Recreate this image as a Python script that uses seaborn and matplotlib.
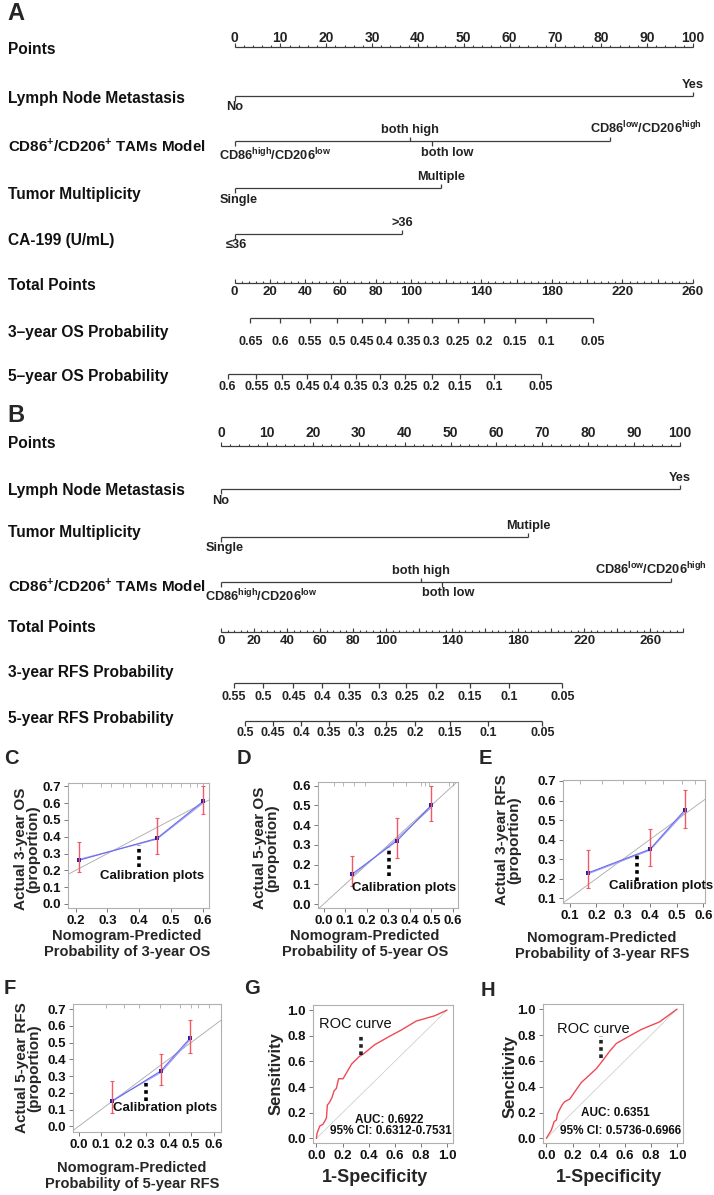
import numpy as np
import pandas as pd
import matplotlib
matplotlib.use("Agg")
import matplotlib.pyplot as plt
import seaborn as sns
from matplotlib import font_manager

# ======================= DATA =======================
points_ticks = list(range(0, 101, 10))

# ---- Nomogram A (OS) ----
A_lnm_levels = ["No", "Yes"]
A_lnm_points = [0, 100]
A_tam_levels = [r"CD86$^{\mathregular{high}}$/CD206$^{\mathregular{low}}$", "both high", "both low",
                r"CD86$^{\mathregular{low}}$/CD206$^{\mathregular{high}}$"]
A_tam_points = [0, 38.3, 43.0, 82.0]
A_tm_levels = ["Single", "Multiple"]
A_tm_points = [0, 45.0]
A_ca_levels = ["≤36", ">36"]
A_ca_points = [0, 36.5]
A_total_labels = [0, 20, 40, 60, 80, 100, 140, 180, 220, 260]
A_total_full = 260
A_os3_prob = ["0.65", "0.6", "0.55", "0.5", "0.45", "0.4", "0.35", "0.3", "0.25", "0.2", "0.15", "0.1", "0.05"]
A_os3_total = [9.0, 25.8, 42.6, 58.1, 72.3, 85.2, 98.6, 111.8, 126.5, 141.5, 158.8, 176.9, 203.2]
A_os5_prob = ["0.6", "0.55", "0.5", "0.45", "0.4", "0.35", "0.3", "0.25", "0.2", "0.15", "0.1", "0.05"]
A_os5_total = [-3.9, 12.4, 27.1, 41.3, 55.0, 68.9, 82.6, 96.8, 111.8, 127.8, 147.2, 173.8]

# ---- Nomogram B (RFS) ----
B_lnm_levels = ["No", "Yes"]
B_lnm_points = [0, 100]
B_tm_levels = ["Single", "Mutiple"]
B_tm_points = [0, 66.9]
B_tam_levels = A_tam_levels
B_tam_points = [0, 43.5, 48.2, 98.0]
B_total_labels = [0, 20, 40, 60, 80, 100, 140, 180, 220, 260]
B_total_full = 278
B_total_max = 280
B_rfs3_prob = ["0.55", "0.5", "0.45", "0.4", "0.35", "0.3", "0.25", "0.2", "0.15", "0.1", "0.05"]
B_rfs3_total = [8.0, 25.7, 43.9, 61.2, 77.8, 95.7, 112.3, 130.2, 150.9, 174.4, 206.7]
B_rfs5_prob = ["0.5", "0.45", "0.4", "0.35", "0.3", "0.25", "0.2", "0.15", "0.1", "0.05"]
B_rfs5_total = [14.6, 31.5, 48.6, 65.2, 81.8, 99.8, 117.7, 138.5, 162.0, 194.6]

# ---- Calibration plots ----
C_pred = [0.21, 0.455, 0.60]; C_obs = [0.26, 0.39, 0.61]; C_corr = [0.265, 0.385, 0.60]
C_lo = [0.19, 0.30, 0.535];   C_hi = [0.37, 0.51, 0.70]
C_rug = [0.22, 0.28, 0.31, 0.35, 0.37, 0.42, 0.44, 0.47, 0.50, 0.53, 0.56, 0.58, 0.60]

D_pred = [0.13, 0.34, 0.50]; D_obs = [0.15, 0.32, 0.50]; D_corr = [0.14, 0.33, 0.49]
D_lo = [0.09, 0.235, 0.42];  D_hi = [0.245, 0.435, 0.60]
D_rug = [0.05, 0.09, 0.14, 0.19, 0.32, 0.38, 0.45, 0.47, 0.49, 0.58, 0.60]

E_pred = [0.17, 0.40, 0.53]; E_obs = [0.23, 0.35, 0.55]; E_corr = [0.225, 0.345, 0.54]
E_lo = [0.15, 0.265, 0.46];  E_hi = [0.345, 0.455, 0.655]
E_rug = [0.14, 0.22, 0.30, 0.38, 0.45, 0.52, 0.57]

F_pred = [0.15, 0.365, 0.495]; F_obs = [0.15, 0.33, 0.525]; F_corr = [0.155, 0.32, 0.515]
F_lo = [0.08, 0.245, 0.435];   F_hi = [0.27, 0.43, 0.635]
F_rug = [0.12, 0.20, 0.27, 0.36, 0.45, 0.50, 0.53, 0.58]

# ---- ROC curves ----
G_fpr = [0, 0.005, 0.026, 0.05, 0.064, 0.077, 0.084, 0.10, 0.12, 0.135, 0.153, 0.17, 0.204,
         0.23, 0.27, 0.33, 0.357, 0.446, 0.55, 0.65, 0.765, 0.906, 1.0]
G_tpr = [0, 0.04, 0.096, 0.11, 0.134, 0.16, 0.26, 0.28, 0.32, 0.37, 0.39, 0.465, 0.465,
         0.51, 0.58, 0.64, 0.656, 0.73, 0.79, 0.845, 0.915, 0.956, 1.0]
H_fpr = [0, 0.018, 0.038, 0.059, 0.077, 0.084, 0.10, 0.12, 0.14, 0.179, 0.217, 0.268, 0.33,
         0.383, 0.434, 0.485, 0.536, 0.65, 0.727, 0.867, 1.0]
H_tpr = [0, 0.031, 0.064, 0.129, 0.142, 0.186, 0.22, 0.258, 0.284, 0.304, 0.36, 0.433, 0.49,
         0.54, 0.606, 0.675, 0.735, 0.80, 0.843, 0.902, 1.0]

# ======================= STYLE =======================
W, H = 714, 1195
sns.set_theme(style="ticks")
avail = {f.name for f in font_manager.fontManager.ttflist}
BASE = "Liberation Sans" if "Liberation Sans" in avail else "DejaVu Sans"
NARROW = "Liberation Sans Narrow" if "Liberation Sans Narrow" in avail else BASE
plt.rcParams["font.family"] = [BASE, "DejaVu Sans"]
plt.rcParams["mathtext.fontset"] = "custom"
plt.rcParams["mathtext.rm"] = BASE
plt.rcParams["mathtext.bf"] = BASE + ":bold"

fig = plt.figure(figsize=(W / 100, H / 100), dpi=100)
fig.patch.set_facecolor("white")


def add_axes_px(x0, y0, x1, y1):
    return fig.add_axes([x0 / W, 1 - y1 / H, (x1 - x0) / W, (y1 - y0) / H])


def ftext(x, y, s, **kw):
    return fig.text(x / W, 1 - y / H, s, **kw)


LC = "#3c3c3c"

# ======================= NOMOGRAMS =======================
def nomo_axes(top, bottom, x0px, x100px):
    ax = add_axes_px(0, top, W, bottom)
    s = (x100px - x0px) / 100.0
    ax.set_xlim(-x0px / s, (W - x0px) / s)
    ax.set_ylim(bottom, top)
    ax.axis("off")
    return ax, s


def draw_points(ax, y, ylab):
    ax.hlines(y, 0, 100, color=LC, lw=0.9)
    ax.vlines(np.arange(0, 101, 2), y, y - 2.5, color=LC, lw=0.8)
    ax.vlines(points_ticks, y, y - 4.5, color=LC, lw=0.8)
    for t in points_ticks:
        ax.text(t, ylab, str(t), ha="center", va="center", fontsize=10,
                fontweight="bold", family=NARROW, color="#222")


def draw_var(ax, s, y, pts, levels, offs):
    ax.hlines(y, min(pts), max(pts), color=LC, lw=0.9)
    for i, (p, lab) in enumerate(zip(pts, levels)):
        above = (i % 2 == 1)
        ax.vlines(p, y, y - 4.5 if above else y + 4.5, color=LC, lw=0.9)
        ax.text(p + offs[i] / s, y - 5 if above else y + 5.5, lab, ha="center",
                va="bottom" if above else "top", fontsize=9.2, fontweight="bold",
                color="#222")


def draw_total(ax, y, ylab, labels, full, maxv, step):
    f = 100.0 / full
    ticks = np.arange(0, maxv + 0.01, step)
    ax.hlines(y, 0, maxv * f, color=LC, lw=0.9)
    ax.vlines(ticks * f, y, y - 2.5, color=LC, lw=0.8)
    ax.vlines(np.arange(0, maxv + 0.01, 20) * f, y, y - 4.5, color=LC, lw=0.8)
    for t in labels:
        ax.text(t * f, ylab, str(t), ha="center", va="center", fontsize=9.5,
                fontweight="bold", family=NARROW, color="#222")


def draw_prob(ax, y, ylab, probs, totals, full):
    xs = np.asarray(totals) * 100.0 / full
    ax.hlines(y, xs.min(), xs.max(), color=LC, lw=0.9)
    ax.vlines(xs, y, y + 4.5, color=LC, lw=0.9)
    for x, p in zip(xs, probs):
        ax.text(x, ylab, p, ha="center", va="center", fontsize=9,
                fontweight="bold", family=NARROW, color="#222")


def row_label(y, s, size=11.2):
    ftext(8, y, s, ha="left", va="center", fontsize=size, fontweight="bold", color="#111")


# ---- A ----
axA, sA = nomo_axes(0, 400, 234.5, 693)
ftext(7, 14, "A", ha="left", va="center", fontsize=17, fontweight="bold", family=NARROW)
row_label(50, "Points")
draw_points(axA, 47, 38)
row_label(98, "Lymph Node Metastasis")
draw_var(axA, sA, 96, A_lnm_points, A_lnm_levels, [0, 0])
row_label(145, r"CD86$^{\mathregular{+}}$/CD206$^{\mathregular{+}}$ TAMs Model", 10.9)
draw_var(axA, sA, 141, A_tam_points, A_tam_levels, [41, 0, 16, 35])
row_label(195, "Tumor Multiplicity")
draw_var(axA, sA, 188, A_tm_points, A_tm_levels, [4, 0])
row_label(240, "CA-199 (U/mL)")
draw_var(axA, sA, 234, A_ca_points, A_ca_levels, [2, 0])
row_label(286, "Total Points")
draw_total(axA, 283, 292, A_total_labels, A_total_full, A_total_full, 4)
row_label(332, "3\u2013year OS Probability")
draw_prob(axA, 318, 342, A_os3_prob, A_os3_total, A_total_full)
row_label(377, "5\u2013year OS Probability")
draw_prob(axA, 374, 387, A_os5_prob, A_os5_total, A_total_full)

# ---- B ----
axB, sB = nomo_axes(395, 745, 221, 680)
ftext(7, 416, "B", ha="left", va="center", fontsize=17, fontweight="bold", family=NARROW)
row_label(443, "Points")
draw_points(axB, 446, 433)
row_label(490, "Lymph Node Metastasis")
draw_var(axB, sB, 489, B_lnm_points, B_lnm_levels, [0, 0])
row_label(533, "Tumor Multiplicity")
draw_var(axB, sB, 537, B_tm_points, B_tm_levels, [4, 0])
row_label(585, r"CD86$^{\mathregular{+}}$/CD206$^{\mathregular{+}}$ TAMs Model", 10.9)
draw_var(axB, sB, 582, B_tam_points, B_tam_levels, [40, 0, 6, -20])
row_label(628, "Total Points")
draw_total(axB, 632, 641, B_total_labels, B_total_full, B_total_max, 4)
row_label(673, "3-year RFS Probability")
draw_prob(axB, 683, 697, B_rfs3_prob, B_rfs3_total, B_total_full)
row_label(718, "5-year RFS Probability")
draw_prob(axB, 721, 733, B_rfs5_prob, B_rfs5_total, B_total_full)

# ======================= CALIBRATION =======================
def style_small(ax, xlim, ylim, xticks, yticks):
    ax.set_xlim(*xlim)
    ax.set_ylim(*ylim)
    ax.set_xticks(xticks)
    ax.set_yticks(yticks)
    ax.set_xticklabels([f"{v:.1f}" for v in xticks])
    ax.set_yticklabels([f"{v:.1f}" for v in yticks])
    for sp in ax.spines.values():
        sp.set_visible(True)
        sp.set_color("#b0b0b0")
        sp.set_linewidth(0.8)
    ax.tick_params(length=3, width=0.7, color="#777", direction="out", pad=2,
                   labelsize=9.5, labelcolor="#111")
    for lab in ax.get_xticklabels() + ax.get_yticklabels():
        lab.set_fontweight("bold")
    ax.set_xlabel("")
    ax.set_ylabel("")


def calib(box, pred, obs, corr, lo, hi, rug, xlim, ylim, xticks, yticks,
          dots_x, dots_y, txt_xy, ylab, ylab_xy, xlab, xlab_xy, letter, letter_xy):
    ax = add_axes_px(*box)
    ax.axline((0, 0), (1, 1), color="#a8a8a8", lw=0.6, zorder=1)
    df = pd.DataFrame({"pred": pred, "obs": obs, "corr": corr})
    sns.lineplot(data=df, x="pred", y="corr", color="#a0a0f5", lw=0.8, ax=ax, zorder=2)
    sns.lineplot(data=df, x="pred", y="obs", color="#6a6aee", lw=0.8, ax=ax, zorder=3,
                 marker="s", markersize=2.5, markeredgewidth=0, markerfacecolor="#2020b0")
    o = np.asarray(obs)
    ax.errorbar(pred, obs, yerr=[o - np.asarray(lo), np.asarray(hi) - o], fmt="none",
                ecolor="#f05a64", elinewidth=1.0, capsize=1.5, capthick=0.8, zorder=4)
    ax.vlines(rug, 0.965, 1.0, transform=ax.get_xaxis_transform(), color="#9a9a9a", lw=0.5)
    ax.plot([dots_x, dots_x], dots_y, color="black", lw=2.6, ls=(0, (1, 1)),
            solid_capstyle="butt", zorder=5)
    ax.text(txt_xy[0], txt_xy[1], "Calibration plots", ha="center", va="center",
            fontsize=9.5, fontweight="bold", color="#111", zorder=6)
    style_small(ax, xlim, ylim, xticks, yticks)
    ftext(*ylab_xy, ylab, rotation=90, ha="center", va="center", fontsize=11,
          fontweight="bold", linespacing=0.9, multialignment="center")
    ftext(*xlab_xy, xlab, ha="center", va="center", fontsize=10.5,
          fontweight="bold", linespacing=1.15, multialignment="center")
    ftext(*letter_xy, letter, ha="center", va="center", fontsize=14.5, fontweight="bold")
    return ax


calib((68, 783, 209, 908), C_pred, C_obs, C_corr, C_lo, C_hi, C_rug,
      (0.176, 0.619), (-0.024, 0.72), [0.2, 0.3, 0.4, 0.5, 0.6], np.arange(0, 0.71, 0.1),
      0.40, [0.22, 0.35], (0.44, 0.165),
      "Actual 3-year OS\n(proportion)", (27, 849),
      "Nomogram-Predicted\nProbability of 3-year OS", (127, 944), "C", (11, 759))

calib((318, 782, 458, 908), D_pred, D_obs, D_corr, D_lo, D_hi, D_rug,
      (-0.026, 0.623), (-0.02, 0.618), np.arange(0, 0.61, 0.1), np.arange(0, 0.61, 0.1),
      0.305, [0.14, 0.29], (0.375, 0.08),
      "Actual 5-year OS\n(proportion)", (266, 848),
      "Nomogram-Predicted\nProbability of 5-year OS", (365, 944), "D", (244, 759))

calib((563, 780, 705, 903), E_pred, E_obs, E_corr, E_lo, E_hi, E_rug,
      (0.075, 0.606), (0.075, 0.705), np.arange(0.1, 0.61, 0.1), np.arange(0.1, 0.71, 0.1),
      0.35, [0.19, 0.32], (0.44, 0.16),
      "Actual 3-year RFS\n(proportion)", (508, 840),
      "Nomogram-Predicted\nProbability of 3-year RFS", (602, 946), "E", (485, 759))

calib((73, 1004, 221, 1132), F_pred, F_obs, F_corr, F_lo, F_hi, F_rug,
      (-0.025, 0.633), (-0.034, 0.73), np.arange(0, 0.61, 0.1), np.arange(0, 0.71, 0.1),
      0.30, [0.15, 0.275], (0.385, 0.11),
      "Actual 5-year RFS\n(proportion)", (28, 1068),
      "Nomogram-Predicted\nProbability of 5-year RFS", (132, 1176), "F", (10, 988))

# ======================= ROC =======================
def roc(box, fpr, tpr, dots_x, dots_y, roc_xy, auc_txt, auc_xy, ci_txt, ci_xy,
        ylab, ylab_xy, xlab_xy, letter, letter_xy):
    ax = add_axes_px(*box)
    ax.plot([0, 1], [0, 1], color="#d0d0d0", lw=0.6, zorder=1)
    df = pd.DataFrame({"fpr": fpr, "tpr": tpr})
    sns.lineplot(data=df, x="fpr", y="tpr", color="#ee4a55", lw=1.0, sort=False,
                 estimator=None, ax=ax, zorder=3)
    ax.plot([dots_x, dots_x], dots_y, color="#222", lw=2.6, ls=(0, (1, 1)),
            solid_capstyle="butt", zorder=4)
    ax.text(*roc_xy, "ROC curve", ha="center", va="center", fontsize=10.5, color="#111")
    ax.text(*auc_xy, auc_txt, ha="center", va="center", fontsize=8.5, fontweight="bold", color="#111")
    ax.text(*ci_xy, ci_txt, ha="center", va="center", fontsize=8.5, fontweight="bold", color="#111")
    ticks = np.arange(0, 1.01, 0.2)
    style_small(ax, (-0.026, 1.046), (-0.036, 1.04), ticks, ticks)
    ftext(*ylab_xy, ylab, rotation=90, ha="center", va="center", fontsize=12, fontweight="bold")
    ftext(*xlab_xy, "1-Specificity", ha="center", va="center", fontsize=13, fontweight="bold")
    ftext(*letter_xy, letter, ha="center", va="center", fontsize=14.5, fontweight="bold")


roc((313, 1005, 453, 1143), G_fpr, G_tpr, 0.34, [0.65, 0.81], (0.30, 0.89),
    "AUC: 0.6922", (0.556, 0.14), "95% CI: 0.6312-0.7531", (0.571, 0.057),
    "Sensitivity", (276, 1074), (375, 1177), "G", (252, 989))

roc((543, 1004, 683, 1143), H_fpr, H_tpr, 0.416, [0.62, 0.79], (0.357, 0.85),
    "AUC: 0.6351", (0.528, 0.193), "95% CI: 0.5736-0.6966", (0.566, 0.057),
    "Sencitivity", (510, 1077), (609, 1177), "H", (488, 991))

fig.savefig("out.png", dpi=100, facecolor="white")
